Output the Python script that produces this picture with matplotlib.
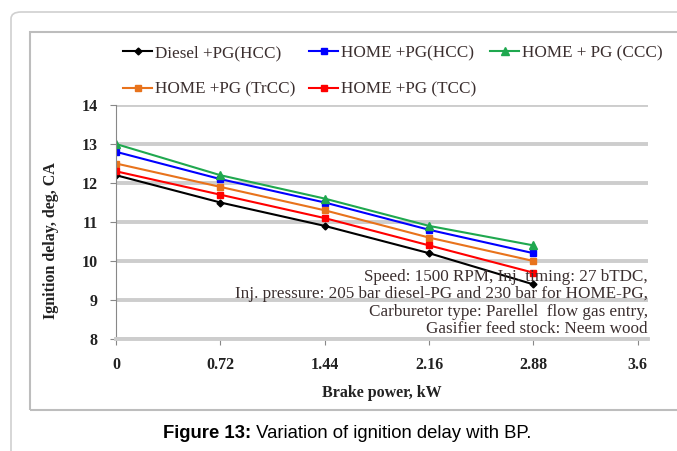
import matplotlib.pyplot as plt
from matplotlib.patches import FancyBboxPatch, Rectangle

# brake power, kW
bp = [0, 0.72, 1.44, 2.16, 2.88]

diesel_hcc = [12.2, 11.5, 10.9, 10.2, 9.4]
home_hcc = [12.8, 12.1, 11.5, 10.8, 10.2]
home_ccc = [13.0, 12.2, 11.6, 10.9, 10.4]
home_trcc = [12.5, 11.9, 11.3, 10.6, 10.0]
home_tcc = [12.3, 11.7, 11.1, 10.4, 9.7]

labels = ['Diesel +PG(HCC)', 'HOME +PG(HCC)', 'HOME + PG (CCC)',
          'HOME +PG (TrCC)', 'HOME +PG (TCC)']

xticks = [0, 0.72, 1.44, 2.16, 2.88, 3.6]
xticklabels = ['0', '0.72', '1.44', '2.16', '2.88', '3.6']
yticks = [8, 9, 10, 11, 12, 13, 14]

note = ('Speed: 1500 RPM, Inj. timing: 27 bTDC,\n'
        'Inj. pressure: 205 bar diesel-PG and 230 bar for HOME-PG,\n'
        'Carburetor type: Parellel  flow gas entry,\n'
        'Gasifier feed stock: Neem wood')

serif = 'Liberation Serif'
txtc = '#3b2f2f'

fig = plt.figure(figsize=(6.77, 4.51), dpi=100)
W, H = 677, 451

# outer rounded frame and inner chart frame
fig.patches.append(FancyBboxPatch((11 / W, -0.1), 1.0, 1 - 12 / H + 0.1,
                                  boxstyle='round,pad=0,rounding_size=0.015',
                                  transform=fig.transFigure, fill=False,
                                  ec='#d0d0d0', lw=1.2))
fig.patches.append(Rectangle((30 / W, 1 - 410 / H), 1.0, (410 - 32) / H,
                             transform=fig.transFigure, fill=False,
                             ec='#bdbdbd', lw=1.5))

ax = fig.add_axes([116 / W, 1 - 339 / H, (648 - 116) / W, (339 - 105) / H])

ax.plot(bp, diesel_hcc, color='black', marker='D', ms=3.5, lw=1.5, label=labels[0])
ax.plot(bp, home_hcc, color='#0000ff', marker='s', ms=5, lw=1.5, label=labels[1])
ax.plot(bp, home_ccc, color='#1fa84f', marker='^', ms=6, lw=1.5, label=labels[2])
ax.plot(bp, home_trcc, color='#e8731c', marker='s', ms=5, lw=1.5, label=labels[3])
ax.plot(bp, home_tcc, color='#ff0000', marker='s', ms=5, lw=1.5, label=labels[4])

ax.set_xlim(0, 3.67)
ax.set_ylim(8, 14)
ax.set_xticks(xticks)
ax.set_xticklabels(xticklabels)
ax.set_yticks(yticks)
ax.grid(axis='y', color='#cdcdcd', lw=2.8)
ax.set_axisbelow(True)
for s in ['top', 'right']:
    ax.spines[s].set_visible(False)
ax.spines['left'].set_color('#888888')
ax.spines['bottom'].set_color('#cdcdcd')
ax.spines['bottom'].set_linewidth(2.8)
ax.tick_params(axis='both', colors='#888888', labelcolor='#222222', length=4)
for t in ax.get_xticklabels() + ax.get_yticklabels():
    t.set_fontfamily(serif)
    t.set_fontweight('bold')
    t.set_fontsize(11.5)
ax.tick_params(axis='x', pad=9)
ax.tick_params(axis='y', pad=9)

ax.set_xlabel('Brake power, kW', family=serif, weight='bold', fontsize=11.5,
              color='#222222')
ax.set_ylabel('Ignition delay, deg, CA', family=serif, weight='bold', fontsize=11.5,
              color='#222222')
ax.xaxis.set_label_coords(0.5, -(385 - 339) / 234)
ax.yaxis.set_label_coords((59 - 116) / 532, (339 - 241) / 234)

ax.text(1.0, (339 - 269) / 234, note, transform=ax.transAxes, ha='right', va='top',
        family=serif, fontsize=12.3, color=txtc, linespacing=1.12)

# legend in row order
h, l = ax.get_legend_handles_labels()
order = [0, 3, 1, 4, 2]
leg = fig.legend([h[i] for i in order], [l[i] for i in order], ncol=3,
                 loc='upper left', bbox_to_anchor=(123 / W, 1 - 45 / H),
                 frameon=False, prop={'family': serif, 'size': 12.3},
                 handlelength=1.7, handletextpad=0.18, columnspacing=0.8,
                 labelspacing=1.2, borderpad=0, borderaxespad=0)
for t in leg.get_texts():
    t.set_color(txtc)

fig.text(251 / W, 1 - 433 / H, 'Figure 13:', ha='right', va='center',
         fontsize=13.3, family='Liberation Sans', weight='bold')
fig.text(251 / W, 1 - 433 / H, ' Variation of ignition delay with BP.',
         ha='left', va='center', fontsize=13.3, family='Liberation Sans')

fig.savefig('out.png', dpi=100)
